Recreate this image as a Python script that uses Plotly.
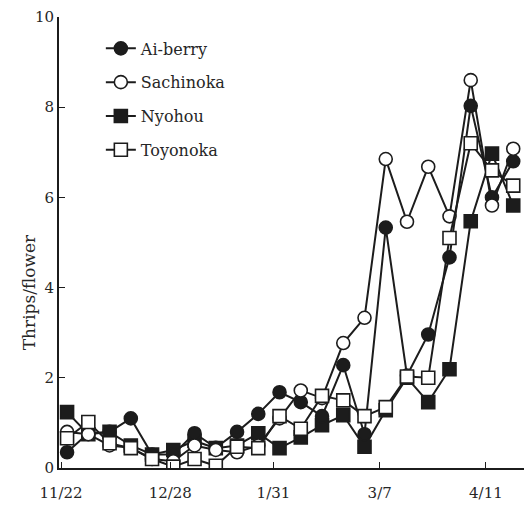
import plotly.graph_objects as go

# sampling days counted from 11/22 (weekly samples)
sample_days = [2, 9, 16, 23, 30, 37, 44, 51, 58, 65, 72, 79, 86, 93, 100, 107, 114, 121, 128, 135, 142, 149]

ai_berry = [0.35, 0.77, 0.80, 1.10, 0.30, 0.30, 0.77, 0.45, 0.80, 1.20, 1.68, 1.46, 1.15, 2.28, 0.75, 5.33, 2.05, 2.96, 4.67, 8.03, 6.00, 6.80]
sachinoka = [0.80, 0.75, 0.50, 0.45, 0.20, 0.15, 0.50, 0.40, 0.35, 0.50, 1.10, 1.72, 1.55, 2.77, 3.33, 6.85, 5.46, 6.68, 5.58, 8.60, 5.82, 7.08]
nyohou = [1.24, 0.75, 0.80, 0.50, 0.30, 0.40, 0.60, 0.44, 0.50, 0.77, 0.44, 0.68, 0.95, 1.17, 0.47, 1.28, 2.00, 1.46, 2.19, 5.47, 6.97, 5.82]
toyonoka = [0.66, 1.02, 0.55, 0.44, 0.20, 0.03, 0.20, 0.05, 0.47, 0.44, 1.15, 0.87, 1.60, 1.50, 1.15, 1.35, 2.03, 2.00, 5.10, 7.20, 6.60, 6.26]

tick_days = [0, 36, 70, 105, 140]
tick_labels = ["11/22", "12/28", "1/31", "3/7", "4/11"]
y_ticks = [0, 2, 4, 6, 8, 10]

INK = "#1c1c1c"
TXT = "#262626"
FONT = "DejaVu Serif, Times New Roman, serif"

series = [
    # name, values, symbol, fill, legend rank
    ("Nyohou", nyohou, "square", INK, 3),
    ("Ai-berry", ai_berry, "circle", INK, 1),
    ("Sachinoka", sachinoka, "circle", "white", 2),
    ("Toyonoka", toyonoka, "square", "white", 4),
]

fig = go.Figure()
for name, vals, sym, fill, rank in series:
    fig.add_trace(go.Scatter(
        x=sample_days, y=vals, name=name, mode="lines+markers",
        line=dict(color=INK, width=2),
        marker=dict(symbol=sym, size=13, color=fill,
                    line=dict(color=INK, width=1.6)),
        legendrank=rank, legendgroup=name,
    ))

fig.update_layout(
    width=524, height=506,
    margin=dict(l=59, r=0, t=17, b=38),
    plot_bgcolor="white", paper_bgcolor="white",
    font=dict(family=FONT, size=15, color=TXT),
    showlegend=True,
    legend=dict(x=0.09, y=0.968, xanchor="left", yanchor="top",
                bgcolor="rgba(0,0,0,0)", borderwidth=0,
                font=dict(family=FONT, size=16, color=TXT),
                tracegroupgap=10, itemwidth=30),
    xaxis=dict(range=[-0.66, 152.55], tickmode="array", tickvals=tick_days,
               ticktext=tick_labels, ticks="inside", ticklen=6, tickwidth=1.2,
               tickcolor=INK, showline=True, linecolor=INK, linewidth=2,
               showgrid=False, zeroline=False, ticklabelstandoff=10,
               tickfont=dict(family=FONT, size=15, color=TXT)),
    yaxis=dict(range=[0, 10], tickvals=y_ticks, ticks="inside", ticklen=6,
               tickwidth=1.2, tickcolor=INK, showline=True, linecolor=INK,
               linewidth=2, showgrid=False, zeroline=False,
               tickfont=dict(family=FONT, size=15, color=TXT)),
    annotations=[dict(text="Thrips/flower", xref="paper", yref="paper",
                      x=-0.09, y=0.39, textangle=-90, showarrow=False,
                      font=dict(family=FONT, size=17, color=TXT))],
)

fig.write_html("out.html")
